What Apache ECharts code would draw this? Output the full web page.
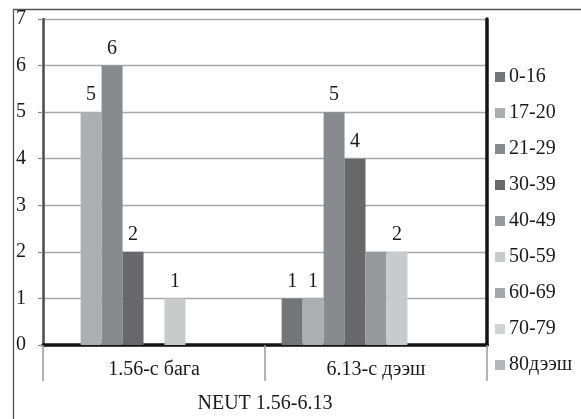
<!DOCTYPE html>
<html>
<head>
<meta charset="utf-8">
<script src="https://cdn.jsdelivr.net/npm/echarts@6/dist/echarts.min.js"></script>
<style>
  html, body { margin: 0; padding: 0; background: #fff; }
  #chart { width: 581px; height: 419px; }
</style>
</head>
<body>
<div id="chart"></div>
<script>
// NEUT groups on the category axis
const categories = ['1.56-с бага', '6.13-с дээш'];

// Counts per age group (null = no bar in that group)
const ageGroups = ['0-16', '17-20', '21-29', '30-39', '40-49', '50-59', '60-69', '70-79', '80дээш'];
const v0_16  = [null, 1];
const v17_20 = [5, 1];
const v21_29 = [6, 5];
const v30_39 = [2, 4];
const v40_49 = [null, 2];
const v50_59 = [1, 2];
const v60_69 = [null, null];
const v70_79 = [null, null];
const v80up  = [null, null];
const seriesValues = [v0_16, v17_20, v21_29, v30_39, v40_49, v50_59, v60_69, v70_79, v80up];

// Which age groups carry value labels above their bars
const labelled = [true, true, true, true, false, true, true, true, true];

const yTicks = [0, 1, 2, 3, 4, 5, 6, 7];

const greys = ['#747579', '#adaeb1', '#898a8d', '#68686b', '#98999c',
               '#c9cacc', '#a5a6a9', '#d2d3d5', '#b5b6b9'];

const FONT = '"Liberation Serif", "DejaVu Serif", serif';
const FS = 20;

const chart = echarts.init(document.getElementById('chart'), null, { renderer: 'canvas' });

chart.setOption({
  animation: false,
  backgroundColor: '#fff',
  textStyle: { fontFamily: FONT },
  grid: { left: 43, top: 19, right: 94, bottom: 70, containLabel: false },
  legend: {
    orient: 'vertical',
    left: 490,
    top: 62,
    itemWidth: 10,
    itemHeight: 10,
    itemGap: 16,
    icon: 'rect',
    textStyle: { fontFamily: FONT, fontSize: FS, color: '#1a1a1a', lineHeight: 20, padding: [0, 0, 0, -1] },
    data: ageGroups
  },
  xAxis: [
    {
      type: 'category',
      data: categories,
      position: 'bottom',
      name: 'NEUT 1.56-6.13',
      nameLocation: 'middle',
      nameGap: 49,
      nameTextStyle: { fontFamily: FONT, fontSize: FS, color: '#1a1a1a' },
      axisLine: { show: true, lineStyle: { color: '#3a3a3a', width: 2 } },
      axisTick: { show: true, interval: 0, length: 36, lineStyle: { color: '#9a9a9a', width: 1.5 } },
      axisLabel: { margin: 15, fontFamily: FONT, fontSize: FS, color: '#1a1a1a' },
      splitLine: { show: false }
    },
    {
      type: 'category',
      data: categories,
      position: 'top',
      axisLine: { show: true, lineStyle: { color: '#141414', width: 3.5 } },
      axisTick: { show: false },
      axisLabel: { show: false }
    }
  ],
  yAxis: [
    {
      type: 'value',
      min: yTicks[0],
      max: yTicks[yTicks.length - 1],
      interval: 1,
      position: 'left',
      axisLine: { show: true, lineStyle: { color: '#4a4a4a', width: 2.5 } },
      axisTick: { show: true, length: 5, lineStyle: { color: '#8a8a8a', width: 1.2 } },
      axisLabel: { margin: 17, fontFamily: FONT, fontSize: FS, color: '#1a1a1a' },
      splitLine: { show: true, lineStyle: { color: '#a8a8a8', width: 1.4 } }
    },
    {
      type: 'value',
      min: yTicks[0],
      max: yTicks[yTicks.length - 1],
      interval: 1,
      position: 'right',
      axisLine: { show: true, lineStyle: { color: '#141414', width: 3.5 } },
      axisTick: { show: false },
      axisLabel: { show: false },
      splitLine: { show: false }
    }
  ],
  series: ageGroups.map((name, i) => ({
    name: name,
    type: 'bar',
    data: seriesValues[i],
    barGap: '0%',
    barCategoryGap: '15%',
    itemStyle: { color: greys[i] },
    label: {
      show: labelled[i],
      position: 'top',
      distance: 7,
      fontFamily: FONT,
      fontSize: FS,
      color: '#1a1a1a',
      formatter: p => (p.value == null ? '' : String(p.value))
    }
  })),
  graphic: [
    {
      type: 'rect',
      left: 11,
      top: 7,
      shape: { width: 620, height: 460 },
      style: { fill: 'none', stroke: '#555', lineWidth: 1.3 },
      silent: true,
      z: -1
    }
  ]
});
</script>
</body>
</html>
